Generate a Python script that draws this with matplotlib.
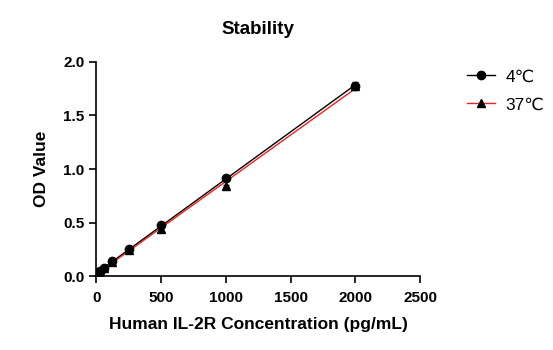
import numpy as np
import matplotlib
matplotlib.use("Agg")
import matplotlib.pyplot as plt

plt.rcParams['font.family'] = ['Liberation Sans', 'DejaVu Sans']

# data
conc = [0, 15.6, 31.25, 62.5, 125, 250, 500, 1000, 2000]
od_4c = [0.02, 0.035, 0.05, 0.08, 0.14, 0.25, 0.48, 0.915, 1.78]
sd_4c = [0.003, 0.003, 0.004, 0.004, 0.006, 0.008, 0.01, 0.012, 0.03]
od_37c = [0.02, 0.033, 0.048, 0.075, 0.135, 0.24, 0.44, 0.84, 1.775]
sd_37c = [0.003, 0.003, 0.004, 0.004, 0.005, 0.006, 0.008, 0.01, 0.015]

fig = plt.figure(figsize=(5.53, 3.5), dpi=100)
ax = fig.add_axes([0.174, 0.211, 0.586, 0.612])

xfit = np.array([0, 2000])

# 4°C
k, b = np.polyfit(conc, od_4c, 1)
ax.plot(xfit, k * xfit + b, color='black', lw=1.0, zorder=2)
ax.errorbar(conc, od_4c, yerr=sd_4c, fmt='o', color='black', ms=6,
            elinewidth=1, capsize=2, zorder=3)
# 37°C
k2, b2 = np.polyfit(conc, od_37c, 1)
ax.plot(xfit, k2 * xfit + b2, color='#ee2222', lw=1.0, zorder=2)
ax.errorbar(conc, od_37c, yerr=sd_37c, fmt='^', color='black', ms=6,
            elinewidth=1, capsize=2, zorder=3)

# legend handles
h1, = ax.plot([], [], color='black', marker='o', ms=6, lw=1)
h2, = ax.plot([], [], color='#ee2222', marker='^', ms=6, lw=1,
              markerfacecolor='black', markeredgecolor='black')
fig.legend([h1, h2], ['4\u2103', '37\u2103'], loc='upper left',
           bbox_to_anchor=(0.832, 0.822), frameon=False, fontsize=12.5,
           handlelength=1.6, handletextpad=0.6, labelspacing=0.75,
           borderaxespad=0)

ax.set_xlim(0, 2500)
ax.set_ylim(0, 2.0)
ax.set_xticks([0, 500, 1000, 1500, 2000, 2500])
ax.set_yticks([0, 0.5, 1.0, 1.5, 2.0])
ax.set_yticklabels(['0.0', '0.5', '1.0', '1.5', '2.0'])
for s in ['top', 'right']:
    ax.spines[s].set_visible(False)
for s in ['left', 'bottom']:
    ax.spines[s].set_linewidth(1.2)
ax.tick_params(width=1.2, length=5, labelsize=11)
ax.tick_params(axis='x', pad=6)
for lab in ax.get_xticklabels() + ax.get_yticklabels():
    lab.set_fontweight('bold')

ax.set_xlabel('Human IL-2R Concentration (pg/mL)', fontsize=12.5,
              fontweight='bold', labelpad=8)
ax.set_ylabel('OD Value', fontsize=12.5, fontweight='bold', labelpad=10)
ax.set_title('Stability', fontsize=13.5, fontweight='bold', pad=20)

fig.savefig('out.png', dpi=100)
